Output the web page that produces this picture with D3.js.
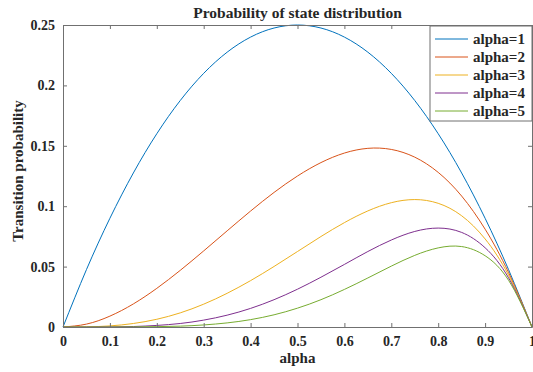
<!DOCTYPE html>
<html>
<head>
<meta charset="utf-8">
<script src="https://cdn.jsdelivr.net/npm/d3@7"></script>
<style>
  body { margin: 0; background: #fff; }
  text { font-family: "Liberation Serif", "Times New Roman", serif; font-weight: bold; fill: #262626; }
</style>
</head>
<body>
<svg id="chart" width="533" height="372"></svg>
<script>
// x positions (alpha) read along the horizontal axis
const xValues = [0, 0.05, 0.1, 0.15, 0.2, 0.25, 0.3, 0.35, 0.4, 0.45, 0.5,
                 0.55, 0.6, 0.65, 0.7, 0.75, 0.8, 0.85, 0.9, 0.95, 1];

// transition probability per series
const alpha1 = [0, 0.0475, 0.09, 0.1275, 0.16, 0.1875, 0.21, 0.2275, 0.24, 0.2475, 0.25,
                0.2475, 0.24, 0.2275, 0.21, 0.1875, 0.16, 0.1275, 0.09, 0.0475, 0];
const alpha2 = [0, 0.0024, 0.009, 0.0191, 0.032, 0.0469, 0.063, 0.0796, 0.096, 0.1114, 0.125,
                0.1361, 0.144, 0.1479, 0.147, 0.1406, 0.128, 0.1084, 0.081, 0.0451, 0];
const alpha3 = [0, 0.0001, 0.0009, 0.0029, 0.0064, 0.0117, 0.0189, 0.0279, 0.0384, 0.0501, 0.0625,
                0.0749, 0.0864, 0.0961, 0.1029, 0.1055, 0.1024, 0.0921, 0.0729, 0.0429, 0];
const alpha4 = [0, 0, 0.0001, 0.0004, 0.0013, 0.0029, 0.0057, 0.0098, 0.0154, 0.0226, 0.0313,
                0.0412, 0.0518, 0.0625, 0.072, 0.0791, 0.0819, 0.0783, 0.0656, 0.0407, 0];
const alpha5 = [0, 0, 0, 0.0001, 0.0003, 0.0007, 0.0017, 0.0034, 0.0061, 0.0101, 0.0156,
                0.0226, 0.0311, 0.0406, 0.0504, 0.0593, 0.0655, 0.0666, 0.059, 0.0387, 0];

const seriesNames = ['alpha=1', 'alpha=2', 'alpha=3', 'alpha=4', 'alpha=5'];
const seriesValues = [alpha1, alpha2, alpha3, alpha4, alpha5];
const seriesColors = ['#0072BD', '#D95319', '#EDB120', '#7E2F8E', '#77AC30'];

const xTicks = [0, 0.1, 0.2, 0.3, 0.4, 0.5, 0.6, 0.7, 0.8, 0.9, 1];
const yTicks = [0, 0.05, 0.1, 0.15, 0.2, 0.25];

const svg = d3.select('#chart');
const margin = { top: 25, right: 1, bottom: 45, left: 63 };
const width = 533 - margin.left - margin.right;
const height = 372 - margin.top - margin.bottom;

const x = d3.scaleLinear().domain([0, 1]).range([margin.left, margin.left + width]);
const y = d3.scaleLinear().domain([0, 0.25]).range([margin.top + height, margin.top]);

const axisColor = '#707070';

// Lines
const line = d3.line()
  .x((d, i) => x(xValues[i]))
  .y(d => y(d))
  .curve(d3.curveNatural);

const plot = svg.append('g');
seriesValues.forEach((vals, k) => {
  plot.append('path')
    .datum(vals)
    .attr('d', line)
    .attr('fill', 'none')
    .attr('stroke', seriesColors[k])
    .attr('stroke-width', 1);
});

// Axes (ticks inward, box on all sides)
const fmt = d => d === 0 ? '0' : d3.format('')(d);

const xAxis = svg.append('g')
  .attr('transform', `translate(0,${margin.top + height})`)
  .call(d3.axisBottom(x).tickValues(xTicks).tickFormat(fmt).tickSizeInner(-4).tickSizeOuter(0).tickPadding(9));
const yAxis = svg.append('g')
  .attr('transform', `translate(${margin.left},0)`)
  .call(d3.axisLeft(y).tickValues(yTicks).tickFormat(fmt).tickSizeInner(-4).tickSizeOuter(0).tickPadding(8));
const xTop = svg.append('g')
  .attr('transform', `translate(0,${margin.top})`)
  .call(d3.axisTop(x).tickValues(xTicks).tickFormat('').tickSizeInner(-4).tickSizeOuter(0));
const yRight = svg.append('g')
  .attr('transform', `translate(${margin.left + width},0)`)
  .call(d3.axisRight(y).tickValues(yTicks).tickFormat('').tickSizeInner(-4).tickSizeOuter(0));

[xAxis, yAxis, xTop, yRight].forEach(a => {
  a.selectAll('path, line').attr('stroke', axisColor);
  a.selectAll('text').attr('font-size', 14).attr('fill', '#262626')
    .style('font-family', '"Liberation Serif", serif').style('font-weight', 'bold');
});

// Title and axis labels
svg.append('text')
  .attr('x', margin.left + width / 2)
  .attr('y', 18)
  .attr('text-anchor', 'middle')
  .attr('font-size', 15.5)
  .text('Probability of state distribution');

svg.append('text')
  .attr('x', margin.left + width / 2)
  .attr('y', 363)
  .attr('text-anchor', 'middle')
  .attr('font-size', 15)
  .text('alpha');

svg.append('text')
  .attr('transform', `translate(23,171) rotate(-90)`)
  .attr('text-anchor', 'middle')
  .attr('font-size', 15)
  .text('Transition probability');

// Legend
const legend = svg.append('g').attr('transform', 'translate(430,26)');
legend.append('rect')
  .attr('width', 102).attr('height', 95)
  .attr('fill', '#fff')
  .attr('stroke', axisColor)
  .attr('stroke-width', 1);

seriesNames.forEach((name, k) => {
  const row = legend.append('g').attr('transform', `translate(0,${13 + k * 18})`);
  row.append('line')
    .attr('x1', 5).attr('x2', 38)
    .attr('y1', 0).attr('y2', 0)
    .attr('stroke', seriesColors[k]);
  row.append('text')
    .attr('x', 43).attr('y', 5)
    .attr('font-size', 15)
    .text(name);
});
</script>
</body>
</html>
